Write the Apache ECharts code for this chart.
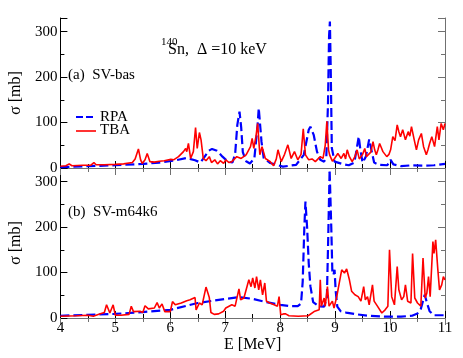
<!DOCTYPE html>
<html>
<head>
<meta charset="utf-8">
<script src="https://cdn.jsdelivr.net/npm/echarts@6/dist/echarts.min.js"></script>
<style>
  html, body { margin: 0; padding: 0; background: #fff; }
  #chart { width: 463px; height: 358px; }
</style>
</head>
<body>
<div id="chart"></div>
<script>
// E [MeV], sigma [mb]
var rpaA = [[4.0,2],[4.5,4],[5.0,6],[5.5,9],[5.8,12],[6.06,16],[6.29,22],[6.45,17],[6.55,12],[6.62,24],[6.7,38],[6.76,42],[6.85,38],[6.95,25],[7.05,14],[7.13,12],
  [7.18,30],[7.22,95],[7.26,124],[7.29,90],[7.32,35],[7.38,15],[7.45,10],[7.53,21],[7.59,95],[7.61,132],[7.66,58],[7.70,22],[7.82,11],[8.05,3],[8.29,7],
  [8.43,29],[8.52,84],[8.55,91],[8.61,73],[8.67,36],[8.73,18],[8.80,14],[8.84,25],[8.87,140],[8.89,290],[8.905,322],[8.92,220],[8.94,44],[8.99,14],
  [9.16,8],[9.25,6],[9.35,12],[9.39,40],[9.43,69],[9.46,40],[9.50,12],[9.56,25],[9.62,63],[9.66,40],[9.71,12],[9.8,7],[9.95,6],[10.01,18],[10.06,8],
  [10.2,4],[10.4,6],[10.6,5],[10.8,6],[11.0,9]];
var tbaA = [[4.0,4],[4.1,5],[4.16,9],[4.21,5],[4.4,6],[4.55,6],[4.61,12],[4.65,7],[4.8,7],[5.0,8],[5.15,9],[5.31,12],[5.36,20],[5.42,42],[5.46,18],
  [5.49,10],[5.54,18],[5.58,32],[5.63,14],[5.71,13],[5.8,15],[5.89,16],[6.01,19],[6.06,18],[6.15,25],[6.24,36],[6.28,43],[6.30,36],[6.33,54],[6.37,21],
  [6.42,36],[6.46,89],[6.49,43],[6.53,78],[6.56,62],[6.60,21],[6.65,16],[6.71,25],[6.75,12],[6.81,18],[6.86,9],[6.91,16],[6.97,10],[7.01,18],[7.07,12],
  [7.12,14],[7.21,25],[7.29,21],[7.38,29],[7.46,47],[7.49,65],[7.52,43],[7.56,70],[7.59,98],[7.63,29],[7.67,47],[7.73,21],[7.82,14],[7.88,5],[7.93,20],
  [7.96,40],[8.02,14],[8.08,30],[8.14,51],[8.20,21],[8.26,36],[8.32,18],[8.38,30],[8.42,86],[8.46,29],[8.52,18],[8.58,20],[8.64,14],[8.73,25],[8.78,21],
  [8.82,50],[8.85,103],[8.88,40],[8.90,29],[8.95,15],[8.99,21],[9.05,32],[9.11,21],[9.16,32],[9.19,20],[9.22,40],[9.26,25],[9.31,14],[9.36,25],[9.40,40],
  [9.44,20],[9.47,18],[9.50,30],[9.54,43],[9.57,25],[9.60,21],[9.65,35],[9.69,58],[9.72,40],[9.75,29],[9.78,40],[9.81,54],[9.84,45],[9.87,36],[9.94,25],
  [9.98,30],[10.01,40],[10.05,69],[10.09,60],[10.13,95],[10.16,80],[10.19,69],[10.23,84],[10.28,62],[10.33,80],[10.36,70],[10.39,91],[10.44,62],[10.48,40],
  [10.52,62],[10.57,76],[10.61,47],[10.66,29],[10.69,40],[10.72,54],[10.76,69],[10.81,47],[10.86,91],[10.89,62],[10.93,98],[10.97,84],[11.0,98]];
var rpaB = [[4.0,5],[4.5,7],[5.0,9],[5.5,13],[6.0,18],[6.5,33],[7.0,42],[7.25,46],[7.5,42],[7.75,35],[8.0,29],[8.2,26],[8.32,26],[8.38,32],[8.41,80],
  [8.44,200],[8.46,256],[8.49,200],[8.52,120],[8.55,70],[8.6,35],[8.7,26],[8.8,25],[8.85,45],[8.87,150],[8.9,326],[8.93,200],[8.95,100],[8.97,95],
  [8.99,106],[9.01,60],[9.04,25],[9.1,15],[9.2,12],[9.4,8],[9.6,5],[9.9,3],[10.2,3],[10.4,5],[10.5,10],[10.56,20],[10.63,51],[10.68,30],[10.72,15],
  [10.8,6],[11.0,6]];
var tbaB = [[4.0,4],[4.3,5],[4.5,6],[4.6,4],[4.7,8],[4.8,12],[4.84,29],[4.9,11],[4.96,29],[5.0,6],[5.1,6],[5.25,8],[5.29,26],[5.33,14],[5.45,15],
  [5.5,12],[5.54,27],[5.6,20],[5.71,22],[5.76,34],[5.80,22],[5.85,31],[5.9,14],[6.0,14],[6.04,36],[6.09,29],[6.2,33],[6.3,38],[6.36,40],[6.45,45],
  [6.47,18],[6.53,33],[6.58,29],[6.65,68],[6.68,65],[6.71,45],[6.74,12],[6.8,8],[6.88,9],[6.97,15],[7.01,22],[7.12,29],[7.18,26],[7.25,64],[7.28,40],
  [7.34,44],[7.43,84],[7.47,69],[7.50,88],[7.54,66],[7.57,91],[7.61,62],[7.64,84],[7.68,51],[7.72,77],[7.75,37],[7.81,33],[7.89,29],[7.95,26],[7.98,47],
  [8.01,7],[8.06,9],[8.10,9],[8.16,5],[8.33,4],[8.51,5],[8.63,15],[8.71,18],[8.73,84],[8.75,26],[8.80,44],[8.82,26],[8.86,69],[8.89,26],[8.95,37],
  [8.98,22],[9.03,47],[9.08,80],[9.12,106],[9.17,99],[9.21,108],[9.26,84],[9.30,59],[9.36,51],[9.42,47],[9.47,37],[9.52,69],[9.55,40],[9.59,47],
  [9.62,29],[9.68,73],[9.71,37],[9.77,26],[9.85,11],[9.91,18],[9.96,26],[9.99,150],[10.03,47],[10.08,29],[10.13,113],[10.16,62],[10.21,40],[10.25,47],
  [10.28,73],[10.32,37],[10.38,33],[10.41,142],[10.45,44],[10.50,33],[10.56,26],[10.60,132],[10.64,44],[10.67,55],[10.70,91],[10.73,47],[10.78,168],
  [10.80,142],[10.83,172],[10.87,106],[10.90,62],[10.94,73],[10.97,91],[11.0,84]];

var serif = '"Liberation Serif", "DejaVu Serif", serif';

// x axis with inward ticks; show = labels on/off
function xAx(grid, pos, show, color) {
  return {
    type: 'value', gridIndex: grid, position: pos, min: 4, max: 11, interval: 1,
    axisLine: {lineStyle: {color: color, width: 1}},
    axisTick: {inside: true, length: 7, lineStyle: {color: color}},
    minorTick: {show: true, splitNumber: 2, length: 4, lineStyle: {color: color}},
    axisLabel: {show: show, margin: 3, fontFamily: serif, fontSize: 15, color: '#000'},
    splitLine: {show: false}
  };
}
function yAx(grid, pos, show, color) {
  return {
    type: 'value', gridIndex: grid, position: pos, min: 0, max: 330, interval: 100,
    axisLine: {lineStyle: {color: color, width: 1}},
    axisTick: {inside: true, length: 7, lineStyle: {color: color}},
    minorTick: {show: true, splitNumber: 2, length: 4, lineStyle: {color: color}},
    axisLabel: {show: show, showMaxLabel: false, margin: 3, fontFamily: serif, fontSize: 15, color: '#000'},
    splitLine: {show: false}
  };
}

var xs = [xAx(0, 'bottom', false, '#000'), xAx(0, 'top', false, '#707070'),
          xAx(1, 'bottom', true, '#000'), xAx(1, 'top', false, '#707070')];
xs[2].name = 'E [MeV]';
xs[2].nameLocation = 'middle';
xs[2].nameGap = 19;
xs[2].nameTextStyle = {fontFamily: serif, fontSize: 16, color: '#000'};

var ys = [yAx(0, 'left', true, '#000'), yAx(0, 'right', false, '#707070'),
          yAx(1, 'left', true, '#000'), yAx(1, 'right', false, '#707070')];
[0, 2].forEach(function (i) {
  ys[i].name = 'σ [mb]';
  ys[i].nameLocation = 'middle';
  ys[i].nameGap = 31;
  ys[i].nameTextStyle = {fontFamily: serif, fontSize: 16, color: '#000'};
});

function rpa(data, xi, yi) {
  return {type: 'line', xAxisIndex: xi, yAxisIndex: yi, data: data, symbol: 'none', clip: true,
    lineStyle: {color: '#0000ff', width: 2.2, type: [9, 4]}, z: 2};
}
function tba(data, xi, yi) {
  return {type: 'line', xAxisIndex: xi, yAxisIndex: yi, data: data, symbol: 'none', clip: true,
    lineStyle: {color: '#ff0000', width: 1.6}, z: 3};
}

var chart = echarts.init(document.getElementById('chart'), null, {renderer: 'canvas'});
chart.setOption({
  animation: false,
  grid: [
    {left: 46, right: 18, top: 18, height: 150},
    {left: 46, right: 18, top: 168, height: 150}
  ],
  xAxis: xs,
  yAxis: ys,
  series: [rpa(rpaA, 0, 0), tba(tbaA, 0, 0), rpa(rpaB, 2, 2), tba(tbaB, 2, 2)],
  graphic: [
    {type: 'text', x: 161, y: 37, style: {text: '140', font: '11px ' + serif, fill: '#000', textVerticalAlign: 'top'}},
    {type: 'text', x: 168, y: 50, style: {text: 'Sn,  Δ =10 keV', font: '16px ' + serif, fill: '#000', textVerticalAlign: 'middle'}},
    {type: 'text', x: 68, y: 75, style: {text: '(a)  SV-bas', font: '15px ' + serif, fill: '#000', textVerticalAlign: 'middle'}},
    {type: 'text', x: 68, y: 212, style: {text: '(b)  SV-m64k6', font: '15px ' + serif, fill: '#000', textVerticalAlign: 'middle'}},
    {type: 'line', shape: {x1: 76, y1: 117, x2: 96, y2: 117}, style: {stroke: '#0000ff', lineWidth: 2.2, lineDash: [7, 3, 7, 3, 1.5, 20]}},
    {type: 'text', x: 100, y: 117, style: {text: 'RPA', font: '15px ' + serif, fill: '#000', textVerticalAlign: 'middle'}},
    {type: 'line', shape: {x1: 76, y1: 131, x2: 96, y2: 131}, style: {stroke: '#ff0000', lineWidth: 1.6}},
    {type: 'text', x: 100, y: 130, style: {text: 'TBA', font: '15px ' + serif, fill: '#000', textVerticalAlign: 'middle'}}
  ]
});
</script>
</body>
</html>
